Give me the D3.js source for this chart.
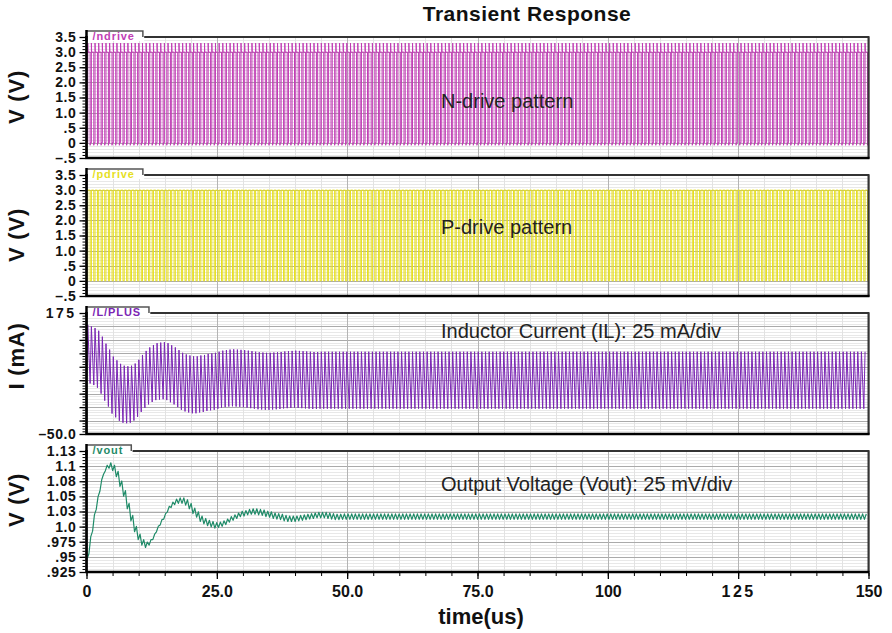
<!DOCTYPE html>
<html>
<head>
<meta charset="utf-8">
<script src="https://cdn.jsdelivr.net/npm/d3@7"></script>
<style>
  body { margin: 0; background: #fff; }
  svg { display: block; font-family: "Liberation Sans", Arial, Helvetica, sans-serif; }
</style>
</head>
<body>
<svg id="chart" width="892" height="633"></svg>
<script>
// ---- time axis ----
const timeTicks = [0, 25, 50, 75, 100, 125, 150];
const timeTickLabels = ["0", "25.0", "50.0", "75.0", "100", "125", "150"];

// ---- switching timing (us) ----
const switchPeriod = 0.7;
const dutyCycle = 0.34;
const cycleCount = 214;

// ---- gate drive levels (V) ----
const driveTicks = [3.5, 3.0, 2.5, 2.0, 1.5, 1.0, 0.5, 0, -0.5];
const driveTickLabels = ["3.5", "3.0", "2.5", "2.0", "1.5", "1.0", ".5", "0", "\u2013.5"];
const ndriveLevels = [0, 3.0];          // low, high
const ndriveEdgeLevels = [-0.08, 3.3];  // undershoot, overshoot
const pdriveLevels = [0, 3.0];

// ---- inductor current (mA) ----
const ilTicks = [175, 150, 125, 100, 75, 50, 25, 0, -25, -50];
const ilTickLabels = ["175", "", "", "", "", "", "", "", "", "\u201350.0"];
const ilRippleHalf = 53;
// cycle-average inductor current, one value per switching cycle
const ilCenter = [
  100, 97, 94, 89, 78, 65, 54, 41, 34, 27.5,
  24, 23, 24, 28, 35, 44, 51.5, 58, 62.5, 66,
  67, 67.7, 66, 62, 58, 53, 48, 45, 43, 41.5,
  41.5, 43, 44, 46, 47, 48, 50, 52, 53, 54,
  54.5, 54, 53.5, 53, 52, 51, 50, 49, 48.5, 48,
  48, 48.5, 49, 49.5, 50.5, 51, 51.5, 52, 51.5, 51,
  50.5, 50, 49.5, 49.5, 50,
  50, 50, 50, 50, 50, 50, 50, 50, 50, 50, 50, 50, 50, 50, 50,
  50, 50, 50, 50, 50, 50, 50, 50, 50, 50, 50, 50, 50, 50, 50,
  50, 50, 50, 50, 50, 50, 50, 50, 50, 50, 50, 50, 50, 50, 50,
  50, 50, 50, 50, 50, 50, 50, 50, 50, 50, 50, 50, 50, 50, 50,
  50, 50, 50, 50, 50, 50, 50, 50, 50, 50, 50, 50, 50, 50, 50,
  50, 50, 50, 50, 50, 50, 50, 50, 50, 50, 50, 50, 50, 50, 50,
  50, 50, 50, 50, 50, 50, 50, 50, 50, 50, 50, 50, 50, 50, 50,
  50, 50, 50, 50, 50, 50, 50, 50, 50, 50, 50, 50, 50, 50, 50,
  50, 50, 50, 50, 50, 50, 50, 50, 50, 50, 50, 50, 50, 50, 50,
  50, 50, 50, 50, 50, 50, 50, 50, 50, 50, 50, 50, 50, 50
];

// ---- output voltage (V) ----
const voutTicks = [1.125, 1.1, 1.075, 1.05, 1.025, 1.0, 0.975, 0.95, 0.925];
const voutTickLabels = ["1.13", "1.1", "1.08", "1.05", "1.03", "1.0", ".975", ".95", ".925"];
const voutRippleHalf = 0.0045;
// cycle-average output voltage, one value per switching cycle
const voutCenter = [
  0.951, 0.988, 1.024, 1.054, 1.082, 1.097, 1.101, 1.097, 1.087, 1.071,
  1.055, 1.034, 1.014, 0.996, 0.983, 0.974, 0.970, 0.974, 0.983, 0.996,
  1.007, 1.017, 1.029, 1.036, 1.041, 1.043, 1.043, 1.040, 1.034, 1.026,
  1.020, 1.013, 1.009, 1.006, 1.004, 1.002, 1.003, 1.005, 1.008, 1.012,
  1.015, 1.018, 1.021, 1.022, 1.024, 1.025, 1.025, 1.024, 1.023, 1.021,
  1.020, 1.018, 1.017, 1.016, 1.014, 1.013, 1.013, 1.013, 1.014, 1.015,
  1.016, 1.017, 1.018, 1.019, 1.019, 1.019, 1.018, 1.017, 1.016, 1.016,
  1.0165, 1.0165, 1.0165, 1.0165, 1.0165, 1.0165, 1.0165, 1.0165, 1.0165, 1.0165, 1.0165, 1.0165, 1.0165, 1.0165, 1.0165, 1.0165,
  1.0165, 1.0165, 1.0165, 1.0165, 1.0165, 1.0165, 1.0165, 1.0165, 1.0165, 1.0165, 1.0165, 1.0165, 1.0165, 1.0165, 1.0165, 1.0165,
  1.0165, 1.0165, 1.0165, 1.0165, 1.0165, 1.0165, 1.0165, 1.0165, 1.0165, 1.0165, 1.0165, 1.0165, 1.0165, 1.0165, 1.0165, 1.0165,
  1.0165, 1.0165, 1.0165, 1.0165, 1.0165, 1.0165, 1.0165, 1.0165, 1.0165, 1.0165, 1.0165, 1.0165, 1.0165, 1.0165, 1.0165, 1.0165,
  1.0165, 1.0165, 1.0165, 1.0165, 1.0165, 1.0165, 1.0165, 1.0165, 1.0165, 1.0165, 1.0165, 1.0165, 1.0165, 1.0165, 1.0165, 1.0165,
  1.0165, 1.0165, 1.0165, 1.0165, 1.0165, 1.0165, 1.0165, 1.0165, 1.0165, 1.0165, 1.0165, 1.0165, 1.0165, 1.0165, 1.0165, 1.0165,
  1.0165, 1.0165, 1.0165, 1.0165, 1.0165, 1.0165, 1.0165, 1.0165, 1.0165, 1.0165, 1.0165, 1.0165, 1.0165, 1.0165, 1.0165, 1.0165,
  1.0165, 1.0165, 1.0165, 1.0165, 1.0165, 1.0165, 1.0165, 1.0165, 1.0165, 1.0165, 1.0165, 1.0165, 1.0165, 1.0165, 1.0165, 1.0165,
  1.0165, 1.0165, 1.0165, 1.0165, 1.0165, 1.0165, 1.0165, 1.0165, 1.0165, 1.0165, 1.0165, 1.0165, 1.0165, 1.0165, 1.0165, 1.0165
];

// ---- build switching waveforms, cycle by cycle ----
const cycleStarts = d3.range(cycleCount).map(k => k * switchPeriod);
const onTime = dutyCycle * switchPeriod;
const edge = 0.05;

const ndrivePts = [];
const pdrivePts = [];
const ilPts = [];
const voutPts = [[0, voutCenter[0] - voutRippleHalf]];
cycleStarts.forEach((t0, k) => {
  const tOn = t0 + onTime, tEnd = t0 + switchPeriod;
  ndrivePts.push([t0, ndriveLevels[0]], [tOn, ndriveLevels[0]], [tOn, ndriveEdgeLevels[1]],
                 [tOn + edge, ndriveLevels[1]], [tEnd, ndriveLevels[1]], [tEnd, ndriveEdgeLevels[0]],
                 [tEnd + edge, ndriveLevels[0]]);
  pdrivePts.push([t0, pdriveLevels[0]], [tOn, pdriveLevels[0]], [tOn, pdriveLevels[1]],
                 [tEnd, pdriveLevels[1]], [tEnd, pdriveLevels[0]]);
  ilPts.push([t0, ilCenter[k] - ilRippleHalf], [tOn, ilCenter[k] + ilRippleHalf]);
  voutPts.push([t0 + onTime / 2, voutCenter[k] - voutRippleHalf],
               [tOn + (switchPeriod - onTime) / 2, voutCenter[k] + voutRippleHalf]);
});

// ---- layout ----
const svg = d3.select("#chart");
const plotLeft = 86.5, plotRight = 868.5;
const panelHeight = 121;
const x = d3.scaleLinear().domain([0, 150]).range([plotLeft, plotRight]);

const panels = [
  { tag: "/ndrive", color: "#c13db5", top: 37, domain: [-0.5, 3.5], minor: 0.1,
    ticks: driveTicks, labels: driveTickLabels, title: "V (V)", titleY: 97, note: "N-drive pattern", noteY: 108,
    data: ndrivePts, width: 1 },
  { tag: "/pdrive", color: "#e6df1f", top: 175, domain: [-0.5, 3.5], minor: 0.1,
    ticks: driveTicks, labels: driveTickLabels, title: "V (V)", titleY: 235, note: "P-drive pattern", noteY: 234,
    data: pdrivePts, width: 1 },
  { tag: "/L/PLUS", color: "#7b26b4", top: 313, domain: [-50, 175], minor: 5,
    ticks: ilTicks, labels: ilTickLabels, title: "I (mA)", titleY: 356, note: "Inductor Current (IL): 25 mA/div", noteY: 338,
    data: ilPts, width: 1 },
  { tag: "/vout", color: "#1f8b68", top: 451, domain: [0.925, 1.125], minor: 0.005,
    ticks: voutTicks, labels: voutTickLabels, title: "V (V)", titleY: 500, note: "Output Voltage (Vout): 25 mV/div", noteY: 491,
    data: voutPts, width: 1.2 }
];

// title
svg.append("text")
  .attr("x", 527).attr("y", 21)
  .attr("text-anchor", "middle")
  .attr("font-size", 21).attr("font-weight", "bold")
  .attr("letter-spacing", 0.5)
  .attr("fill", "#111")
  .text("Transient Response");

const minorTimes = d3.range(0, 150.001, 5);

panels.forEach((p, i) => {
  const bottom = p.top + panelHeight;
  const y = d3.scaleLinear().domain(p.domain).range([bottom, p.top]);
  const g = svg.append("g");

  g.append("rect").attr("x", plotLeft).attr("y", p.top)
    .attr("width", plotRight - plotLeft).attr("height", panelHeight).attr("fill", "#fff");

  // grid
  const minorVals = d3.range(p.domain[0], p.domain[1] + p.minor / 2, p.minor);
  g.selectAll(".hminor").data(minorVals).join("line")
    .attr("x1", plotLeft).attr("x2", plotRight)
    .attr("y1", d => Math.round(y(d)) + 0.5).attr("y2", d => Math.round(y(d)) + 0.5)
    .attr("stroke", "#e8e8e8").attr("stroke-width", 1);
  g.selectAll(".vminor").data(minorTimes).join("line")
    .attr("x1", d => Math.round(x(d)) + 0.5).attr("x2", d => Math.round(x(d)) + 0.5)
    .attr("y1", p.top).attr("y2", bottom)
    .attr("stroke", "#e2e2e2").attr("stroke-width", 1);
  g.selectAll(".hmajor").data(p.ticks).join("line")
    .attr("x1", plotLeft).attr("x2", plotRight)
    .attr("y1", d => Math.round(y(d)) + 0.5).attr("y2", d => Math.round(y(d)) + 0.5)
    .attr("stroke", "#aaaaaa").attr("stroke-width", 1);
  g.selectAll(".vmajor").data(timeTicks).join("line")
    .attr("x1", d => Math.round(x(d)) + 0.5).attr("x2", d => Math.round(x(d)) + 0.5)
    .attr("y1", p.top).attr("y2", bottom)
    .attr("stroke", "#b4b4b4").attr("stroke-width", 1);

  // series
  const clipId = "clip" + i;
  svg.append("clipPath").attr("id", clipId).append("rect")
    .attr("x", plotLeft).attr("y", p.top).attr("width", plotRight - plotLeft).attr("height", panelHeight);
  const line = d3.line().x(d => x(d[0])).y(d => y(d[1]));
  g.append("path").datum(p.data.filter(d => d[0] <= 150.7))
    .attr("clip-path", `url(#${clipId})`)
    .attr("d", line).attr("fill", "none")
    .attr("stroke", p.color).attr("stroke-width", p.width).attr("stroke-linejoin", "round");

  // annotation
  g.append("text").attr("x", 441).attr("y", p.noteY)
    .attr("font-size", 20).attr("fill", "#222").text(p.note);

  // frame
  g.append("rect").attr("x", plotLeft).attr("y", p.top)
    .attr("width", plotRight - plotLeft).attr("height", panelHeight)
    .attr("fill", "none").attr("stroke", "#333").attr("stroke-width", 2);
  g.append("path")
    .attr("d", `M${plotLeft},${p.top - 1}V${bottom}H${plotRight + 1}`)
    .attr("fill", "none").attr("stroke", "#000").attr("stroke-width", 2.5);

  // y axis: minor then major ticks
  const yMinorAxis = d3.axisLeft(y).tickValues(minorVals).tickSize(3).tickFormat("");
  g.append("g").attr("transform", `translate(${plotLeft - 1},0)`).call(yMinorAxis)
    .call(a => a.select(".domain").remove())
    .call(a => a.selectAll("line").attr("stroke", "#000"));
  const yAxis = d3.axisLeft(y).tickValues(p.ticks).tickSize(6).tickPadding(3)
    .tickFormat((d, j) => p.labels[j]);
  g.append("g").attr("transform", `translate(${plotLeft - 1},0)`).call(yAxis)
    .call(a => a.select(".domain").remove())
    .call(a => a.selectAll("line").attr("stroke", "#000").attr("stroke-width", 1.3))
    .call(a => a.selectAll("text")
      .attr("font-family", "'Liberation Sans', Arial, sans-serif")
      .attr("font-size", 14).attr("font-weight", "bold").attr("fill", "#111")
      .attr("letter-spacing", (d, j) => p.labels[j] === "175" ? 2.5 : 0.6));

  // y axis title
  g.append("text")
    .attr("transform", `translate(24,${p.titleY}) rotate(-90)`)
    .attr("text-anchor", "middle")
    .attr("font-size", 22).attr("font-weight", "bold").attr("fill", "#111")
    .attr("letter-spacing", 0.8)
    .text(p.title);

  // trace name tab
  const tab = g.append("g");
  const tabText = tab.append("text")
    .attr("x", plotLeft + 6).attr("y", p.top + 2.5)
    .attr("font-size", 11).attr("font-weight", "bold").attr("letter-spacing", 0.9)
    .attr("fill", p.color).text(p.tag);
  const tw = tabText.node().getComputedTextLength() + 14;
  tab.insert("rect", "text")
    .attr("x", plotLeft + 1.3).attr("y", p.top - 6).attr("width", tw).attr("height", 10)
    .attr("fill", "#fff");
  tab.insert("path", "text")
    .attr("d", `M${plotLeft},${p.top - 6}H${plotLeft + tw}V${p.top}`)
    .attr("fill", "none").attr("stroke", "#555").attr("stroke-width", 1.5);
  tab.insert("path", "text")
    .attr("d", `M${plotLeft},${p.top - 7}V${p.top + 4}`)
    .attr("fill", "none").attr("stroke", "#000").attr("stroke-width", 2.5);

  // time axis on the bottom panel
  if (i === panels.length - 1) {
    const xMinor = d3.axisBottom(x).tickValues(minorTimes).tickSize(3).tickFormat("");
    g.append("g").attr("transform", `translate(0,${bottom + 1})`).call(xMinor)
      .call(a => a.select(".domain").remove())
      .call(a => a.selectAll("line").attr("stroke", "#000"));
    const xAxis = d3.axisBottom(x).tickValues(timeTicks).tickSize(6).tickPadding(7)
      .tickFormat((d, j) => timeTickLabels[j]);
    g.append("g").attr("transform", `translate(0,${bottom + 1})`).call(xAxis)
      .call(a => a.select(".domain").remove())
      .call(a => a.selectAll("line").attr("stroke", "#000").attr("stroke-width", 1.3))
      .call(a => a.selectAll("text")
        .attr("font-family", "'Liberation Sans', Arial, sans-serif")
        .attr("font-size", 16).attr("font-weight", "bold").attr("fill", "#111")
        .attr("letter-spacing", (d, j) => timeTickLabels[j] === "125" ? 2.5 : 0));
    g.append("text")
      .attr("x", 481).attr("y", 624)
      .attr("text-anchor", "middle")
      .attr("font-size", 22).attr("font-weight", "bold").attr("fill", "#111")
      .text("time(us)");
  }
});
</script>
</body>
</html>
